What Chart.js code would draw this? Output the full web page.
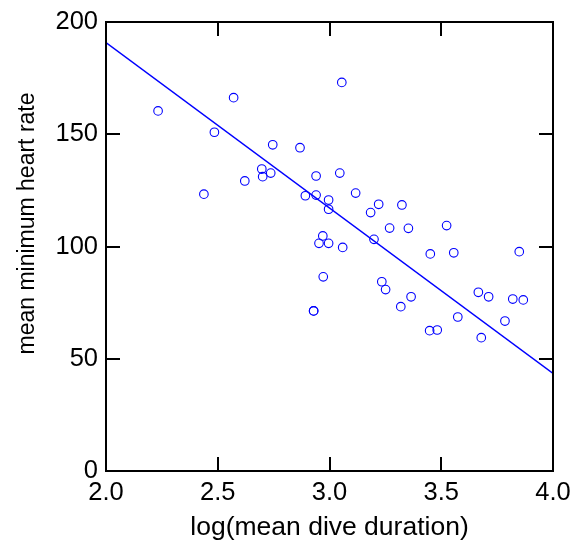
<!DOCTYPE html>
<html>
<head>
<meta charset="utf-8">
<title>Heart rate vs dive duration</title>
<script src="https://cdn.jsdelivr.net/npm/chart.js@4/dist/chart.umd.min.js"></script>
<style>
    html, body { margin: 0; padding: 0; background: #fff; }
    #dive-chart { display: block; }
</style>
</head>
<body>
<canvas id="dive-chart" width="577" height="547"></canvas>
<script>
// log(mean dive duration) of each animal
const diveDuration = [
    2.233, 2.571, 2.485, 2.438, 2.746, 2.868, 2.621, 2.697, 2.701, 2.737,
    2.940, 2.892, 2.940, 2.996, 2.996, 2.970, 2.953, 2.996, 2.972, 2.929,
    2.929, 3.055, 3.046, 3.117, 3.220, 3.184, 3.324, 3.269, 3.353, 3.524,
    3.199, 3.059, 3.451, 3.556, 3.849, 3.234, 3.251, 3.365, 3.319, 3.666,
    3.712, 3.820, 3.867, 3.574, 3.785, 3.448, 3.482, 3.679
];

// mean minimum heart rate of each animal
const heartRate = [
    160.4, 166.3, 150.9, 123.3, 145.3, 144.0, 129.2, 134.5, 131.1, 132.7,
    131.4, 122.6, 122.9, 120.7, 116.6, 104.7, 101.4, 101.4, 86.5, 71.3,
    71.3, 173.1, 132.7, 123.8, 118.8, 115.1, 118.5, 108.2, 108.1, 109.3,
    103.2, 99.6, 96.7, 97.2, 97.7, 84.3, 80.8, 77.6, 73.2, 79.6,
    77.6, 76.6, 76.2, 68.6, 66.8, 62.5, 62.8, 59.4
];

// fitted regression line, ends of the x range
const fitX = [2.0, 4.0];
const fitY = [190.8, 43.5];

// tick labels
const xTicks = [2.0, 2.5, 3.0, 3.5, 4.0];
const yTicks = [0, 50, 100, 150, 200];

const BLUE = '#0000ff';
const FONT = "'Liberation Sans', Arial, Helvetica, sans-serif";

document.addEventListener('DOMContentLoaded', function() {
    createDiveChart();
});

/**
 * Box round the plot area, inward tick marks on all four sides,
 * and the y axis title (it sits a little above the middle)
 */
const frameTicksPlugin = {
    id: 'frameTicks',
    afterDraw: function(chart) {
        const ctx = chart.ctx;
        const a = chart.chartArea;
        const x = chart.scales.x;
        const y = chart.scales.y;
        const len = 14;

        ctx.save();
        ctx.strokeStyle = '#000';
        ctx.lineWidth = 2;
        ctx.strokeRect(a.left, a.top, a.right - a.left, a.bottom - a.top);

        ctx.beginPath();
        xTicks.forEach(function(v) {
            const px = Math.round(x.getPixelForValue(v));
            ctx.moveTo(px, a.bottom);
            ctx.lineTo(px, a.bottom - len);
            ctx.moveTo(px, a.top);
            ctx.lineTo(px, a.top + len);
        });
        yTicks.forEach(function(v) {
            const py = Math.round(y.getPixelForValue(v));
            ctx.moveTo(a.left, py);
            ctx.lineTo(a.left + len, py);
            ctx.moveTo(a.right, py);
            ctx.lineTo(a.right - len, py);
        });
        ctx.stroke();

        // y axis title
        ctx.translate(34, (a.top + a.bottom) / 2 - 23);
        ctx.rotate(-Math.PI / 2);
        ctx.fillStyle = '#000';
        ctx.font = '23px ' + FONT;
        ctx.textAlign = 'center';
        ctx.textBaseline = 'alphabetic';
        ctx.fillText('mean minimum heart rate', 0, 0);
        ctx.restore();
    }
};

/**
 * Scatter of the animals plus the fitted line
 */
function createDiveChart() {
    const canvas = document.getElementById('dive-chart');
    if (!canvas) return;

    const points = diveDuration.map(function(d, i) {
        return { x: d, y: heartRate[i] };
    });
    const fit = fitX.map(function(d, i) {
        return { x: d, y: fitY[i] };
    });

    new Chart(canvas, {
        type: 'scatter',
        data: {
            datasets: [{
                label: 'animals',
                data: points,
                pointStyle: 'circle',
                pointRadius: 4.3,
                backgroundColor: 'rgba(0, 0, 0, 0)',
                borderColor: BLUE,
                borderWidth: 1.1
            }, {
                type: 'line',
                label: 'fit',
                data: fit,
                borderColor: BLUE,
                borderWidth: 1.4,
                pointRadius: 0,
                fill: false,
                tension: 0
            }]
        },
        options: {
            responsive: false,
            animation: false,
            events: [],
            layout: {
                padding: { top: 22, right: 24, bottom: 0, left: 0 }
            },
            plugins: {
                legend: { display: false },
                tooltip: { enabled: false }
            },
            scales: {
                x: {
                    type: 'linear',
                    min: 2,
                    max: 4,
                    afterBuildTicks: function(scale) {
                        scale.ticks = xTicks.map(function(v) { return { value: v }; });
                    },
                    afterFit: function(scale) {
                        scale.height = 76;
                        scale.paddingLeft = 0;
                        scale.paddingRight = 0;
                    },
                    grid: { display: false, drawTicks: false },
                    border: { display: false },
                    ticks: {
                        padding: 7,
                        color: '#000',
                        maxRotation: 0,
                        font: { family: FONT, size: 25.5 },
                        callback: function(value) {
                            return Number(value).toFixed(1);
                        }
                    },
                    title: {
                        display: true,
                        text: 'log(mean dive duration)',
                        color: '#000',
                        padding: { top: 0, bottom: 3 },
                        font: { family: FONT, size: 26.5 }
                    }
                },
                y: {
                    type: 'linear',
                    min: 0,
                    max: 200,
                    afterBuildTicks: function(scale) {
                        scale.ticks = yTicks.map(function(v) { return { value: v }; });
                    },
                    afterFit: function(scale) {
                        scale.width = 106;
                        scale.paddingTop = 0;
                        scale.paddingBottom = 0;
                    },
                    grid: { display: false, drawTicks: false },
                    border: { display: false },
                    ticks: {
                        padding: 8,
                        color: '#000',
                        font: { family: FONT, size: 25.5 }
                    }
                }
            }
        },
        plugins: [frameTicksPlugin]
    });
}
</script>
</body>
</html>
